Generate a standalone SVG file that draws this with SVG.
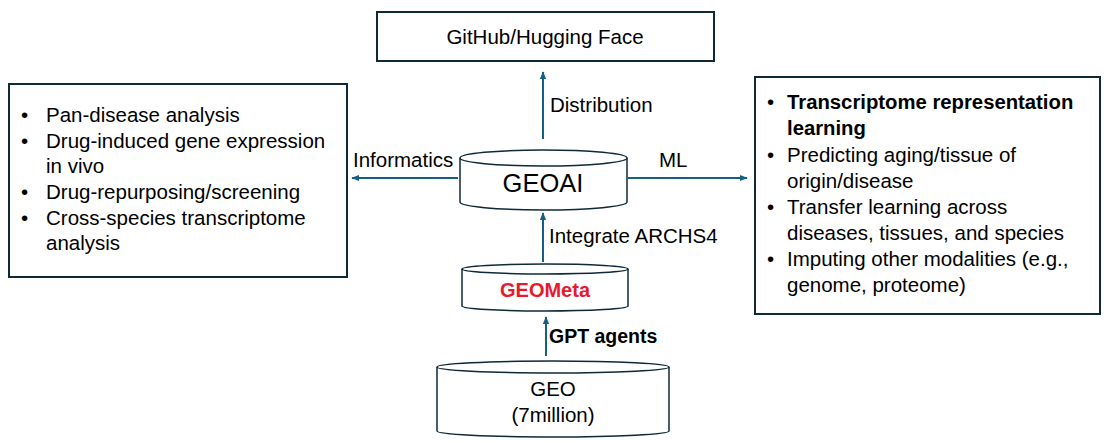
<svg xmlns="http://www.w3.org/2000/svg" width="1112" height="443" viewBox="0 0 1112 443">
<style>
.box{fill:#fff;stroke:#0e2a38;stroke-width:2}
.cyl{fill:#fff;stroke:#0e2a38;stroke-width:1.5}
.t{font-family:"Liberation Sans",Arial,sans-serif;font-size:20.5px;fill:#000}
.b{font-weight:bold}
.con{stroke:#156082;stroke-width:2;fill:none;marker-end:url(#ah)}
</style>
<defs>
<marker id="ah" viewBox="0 0 10 10" refX="9" refY="5" markerWidth="4" markerHeight="4" orient="auto-start-reverse" markerUnits="strokeWidth">
<path d="M0,1 L10,5 L0,9 z" fill="#156082"/>
</marker>
</defs>
<rect width="1112" height="443" fill="#fff"/>

<g id="github">
<rect class="box" x="377" y="12" width="337" height="49"/>
<text class="t" x="545" y="44" text-anchor="middle">GitHub/Hugging Face</text>
</g>

<g id="informatics-box">
<rect class="box" x="9" y="84" width="338" height="193"/>
<g class="t">
<text x="21" y="122">•</text><text x="46" y="122">Pan-disease analysis</text>
<text x="21" y="148">•</text><text x="46" y="148">Drug-induced gene expression</text>
<text x="46" y="173">in vivo</text>
<text x="21" y="199">•</text><text x="46" y="199">Drug-repurposing/screening</text>
<text x="21" y="225">•</text><text x="46" y="225">Cross-species transcriptome</text>
<text x="46" y="250">analysis</text>
</g>
</g>

<g id="ml-box">
<rect class="box" x="755" y="77" width="345" height="237"/>
<g class="t">
<text x="767" y="109">•</text><text class="b" x="787" y="109" style="font-size:20.3px">Transcriptome representation</text>
<text class="b" x="787" y="135" style="font-size:20.3px">learning</text>
<text x="767" y="162">•</text><text x="787" y="162">Predicting aging/tissue of</text>
<text x="787" y="188">origin/disease</text>
<text x="767" y="214">•</text><text x="787" y="214">Transfer learning across</text>
<text x="787" y="240">diseases, tissues, and species</text>
<text x="767" y="266">•</text><text x="787" y="266">Imputing other modalities (e.g.,</text>
<text x="787" y="292">genome, proteome)</text>
</g>
</g>

<g id="geoai">
<path class="cyl" d="M460,158 A83.5,8 0 0 1 627,158 L627,202 A83.5,8 0 0 1 460,202 Z"/>
<path class="cyl" d="M460,158 A83.5,8 0 0 0 627,158" fill="none"/>
<text class="t" x="543" y="192" text-anchor="middle" style="font-size:25.5px">GEOAI</text>
</g>

<g id="geometa">
<path class="cyl" d="M462,269 A83,5 0 0 1 628,269 L628,306 A83,5 0 0 1 462,306 Z"/>
<path class="cyl" d="M462,269 A83,5 0 0 0 628,269" fill="none"/>
<text class="t b" x="545" y="297" text-anchor="middle" style="font-size:20px;fill:#e8192c">GEOMeta</text>
</g>

<g id="geo">
<path class="cyl" d="M437,367 A116,6 0 0 1 669,367 L669,431 A116,6 0 0 1 437,431 Z"/>
<path class="cyl" d="M437,367 A116,6 0 0 0 669,367" fill="none"/>
<text class="t" x="553" y="396" text-anchor="middle">GEO</text>
<text class="t" x="553" y="422" text-anchor="middle">(7million)</text>
</g>

<g id="connectors">
<line class="con" x1="543" y1="139" x2="543" y2="72"/>
<line class="con" x1="458" y1="178" x2="352" y2="178"/>
<line class="con" x1="628" y1="178" x2="747" y2="178"/>
<line class="con" x1="543" y1="262" x2="543" y2="213"/>
<line class="con" x1="546" y1="356" x2="546" y2="317"/>
<text class="t" x="550" y="112">Distribution</text>
<text class="t" x="353" y="167">Informatics</text>
<text class="t" x="659" y="167">ML</text>
<text class="t" x="549" y="243">Integrate ARCHS4</text>
<text class="t b" x="549" y="343" style="font-size:19.5px">GPT agents</text>
</g>
</svg>
